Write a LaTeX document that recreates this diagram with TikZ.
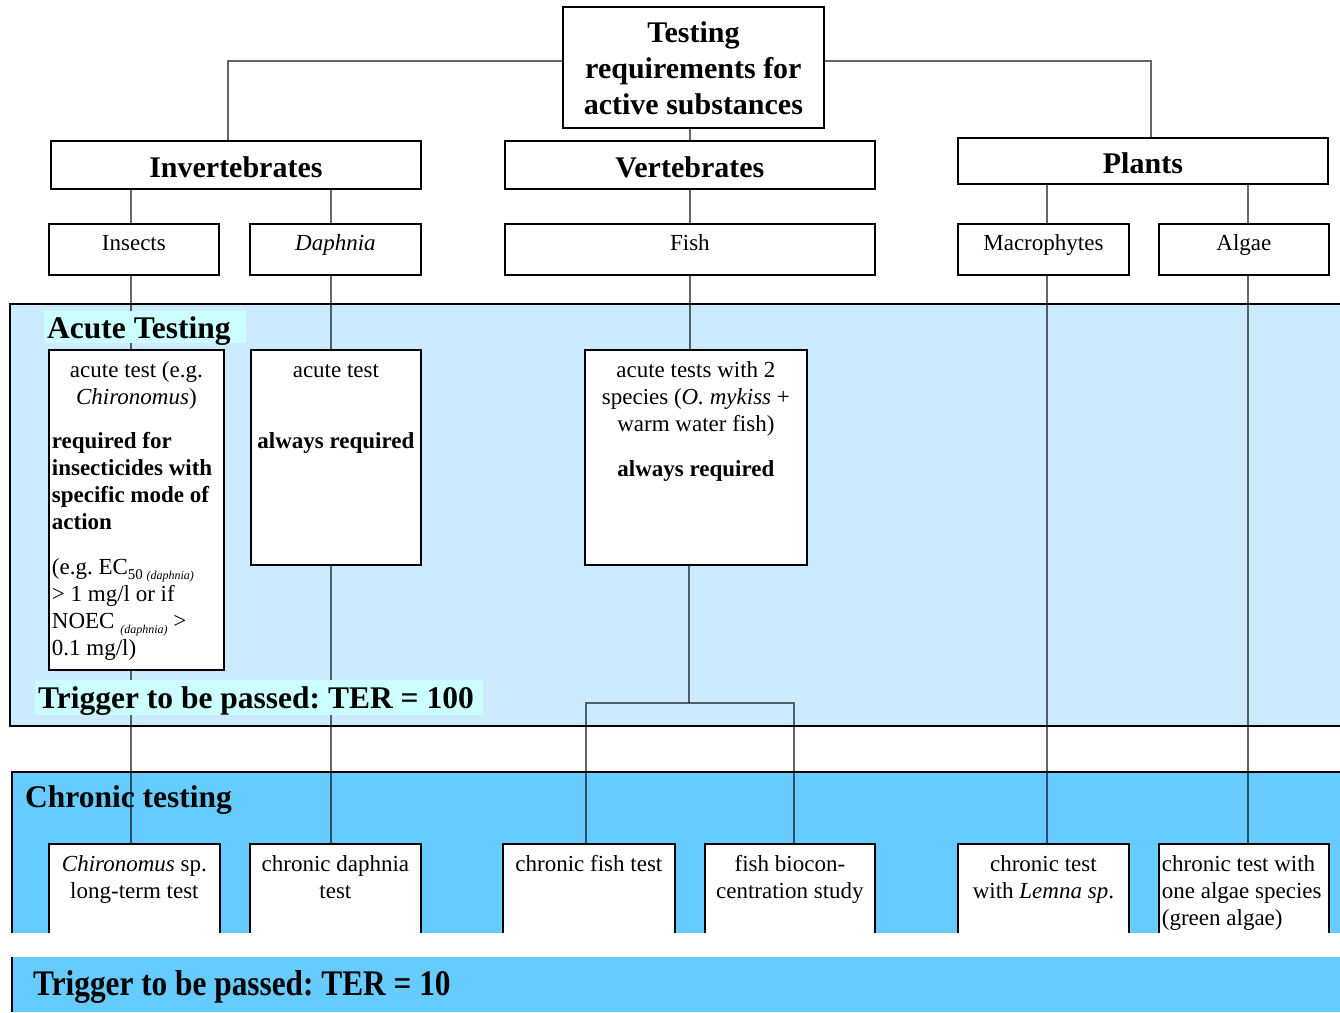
\documentclass[tikz,border=0pt]{standalone}
\usepackage{fontspec}
\setmainfont{Liberation Serif}
\frenchspacing
\usetikzlibrary{positioning}
\pgfdeclarelayer{bands}
\pgfdeclarelayer{lines}
\pgfsetlayers{bands,lines,main}

\definecolor{acutebg}{HTML}{CCEBFF}
\definecolor{labelbg}{HTML}{CCFFFF}
\definecolor{chronicbg}{HTML}{66CCFF}

% width, height, top skip, text
\newcommand{\boxtext}[4]{\begin{minipage}[t][#2pt][t]{\dimexpr #1pt-6pt\relax}\centering\vspace*{#3pt}\strut #4\par\end{minipage}}
\newcommand{\subtxt}[1]{\raisebox{-5pt}{\fontsize{15}{15}\selectfont #1}}

\tikzset{
  tbox/.style={draw, fill=white, line width=1.8pt, inner xsep=3pt, inner ysep=0pt,
    anchor=north west, font=\fontsize{23}{27}\selectfont},
  headbox/.style={tbox, font=\fontsize{30}{36}\selectfont\bfseries},
  conn/.style={line width=2pt, black, opacity=0.6},
  band/.style={draw, line width=1.8pt},
  lab/.style={anchor=north west, fill=labelbg, inner xsep=3pt, inner ysep=1pt,
    font=\fontsize{31.5}{36}\selectfont\bfseries}
}

\begin{document}
\begin{tikzpicture}[x=1pt,y=-1pt]
\useasboundingbox (0,0) rectangle (1340,1012);

% bands
\begin{pgfonlayer}{bands}
  \draw[band, fill=acutebg] (10,304) rectangle (1350,726);
  \draw[band, fill=chronicbg] (12,772) rectangle (1350,950);
  \node[anchor=base west, inner sep=0, font=\fontsize{31.5}{36}\selectfont\bfseries] (chronlab) at (25,807) {Chronic testing};
\end{pgfonlayer}

% top levels
\node[headbox] (top) at (562,6) {\boxtext{261}{121}{10}{Testing\\ requirements for\\ active substances}};
\node[headbox] (inv) at (50,140) {\boxtext{370}{48}{11}{Invertebrates}};
\node[headbox] (vert) at (504,140) {\boxtext{370}{48}{11}{Vertebrates}};
\node[headbox] (plants) at (957,137) {\boxtext{370}{46}{10}{Plants}};

\node[tbox] (insects) at (48,223) {\boxtext{170}{51}{8}{Insects}};
\node[tbox] (daphnia) at (249,223) {\boxtext{171}{51}{8}{\textit{Daphnia}}};
\node[tbox] (fish) at (504,223) {\boxtext{370}{51}{8}{Fish}};
\node[tbox] (macro) at (957,223) {\boxtext{171}{51}{8}{Macrophytes}};
\node[tbox] (algae) at (1158,223) {\boxtext{170}{51}{8}{Algae}};

% acute testing
\node[lab, minimum height=32pt, text height=26pt, text depth=4pt] (acutelab) at (44,311) {\makebox[196pt][l]{Acute Testing}};
\node[tbox] (aIns) at (48,349) {\boxtext{175}{320}{9}{acute test (e.g.\\ \textit{Chironomus})\par
  \vspace{17pt}\raggedright{\bfseries required for\\ insecticides with\\ specific mode of\\ action}\par
  \vspace{18pt}(e.g. EC\subtxt{50 \fontsize{12}{12}\selectfont\textit{(daphnia)}}\\ > 1 mg/l or if\\ NOEC \subtxt{\fontsize{12}{12}\selectfont\textit{(daphnia)}} >\\ 0.1 mg/l)}};
\node[tbox] (aDaph) at (250,349) {\boxtext{170}{215}{9}{acute test\par\vspace{44pt}\textbf{always required}}};
\node[tbox] (aFish) at (584,349) {\boxtext{222}{215}{9}{acute tests with 2\\ species (\textit{O. mykiss} +\\ warm water fish)\par\vspace{18pt}\textbf{always required}}};
\node[lab, minimum height=35pt, text height=27pt, text depth=6pt] (trig100) at (35,680) {\makebox[442pt][l]{Trigger to be passed: TER = 100}};
\coordinate (fsplit) at (689,703);

% chronic testing
\node[tbox] (cIns) at (48,843) {\boxtext{171}{110}{9}{\textit{Chironomus} sp.\\ long-term test}};
\node[tbox] (cDaph) at (249,843) {\boxtext{171}{110}{9}{chronic daphnia\\ test}};
\node[tbox] (cFish) at (502,843) {\boxtext{172}{110}{9}{chronic fish test}};
\node[tbox] (cBio) at (704,843) {\boxtext{170}{110}{9}{fish biocon-\\ centration study}};
\node[tbox] (cLemna) at (957,843) {\boxtext{171}{110}{9}{chronic test\\ with \textit{Lemna sp}.}};
\node[tbox] (cAlg) at (1158,843) {\boxtext{170}{110}{9}{\raggedright chronic test with\\ one algae species\\ (green algae)}};

% connectors
\begin{pgfonlayer}{lines}
  \draw[conn] ([xshift=-8pt]inv.north) |- ([yshift=6.5pt]top.west);
  \draw[conn] ([yshift=6.5pt]top.east) -| ([xshift=8pt]plants.north);
  \draw[conn] (top.south -| vert.north) -- (vert.north);
  \draw[conn] (vert.south) -- (fish.north);
  \draw[conn] ([xshift=-3pt]insects.north) -- ([xshift=-3pt]insects.north |- inv.south);
  \draw[conn] ([xshift=-4.5pt]daphnia.north) -- ([xshift=-4.5pt]daphnia.north |- inv.south);
  \draw[conn] ([xshift=3.5pt]macro.north) -- ([xshift=3.5pt]macro.north |- plants.south);
  \draw[conn] ([xshift=4pt]algae.north) -- ([xshift=4pt]algae.north |- plants.south);
  \draw[conn] ([xshift=-3pt]insects.south) -- ([xshift=-3pt]insects.south |- cIns.north);
  \draw[conn] ([xshift=-4.5pt]daphnia.south) -- ([xshift=-4.5pt]daphnia.south |- cDaph.north);
  \draw[conn] (fish.south) -- (fish.south |- aFish.north);
  \draw[conn] (aFish.south -| fsplit) -- (fsplit);
  \draw[conn] ([xshift=-3pt]cFish.north) |- (fsplit) -| ([xshift=4pt]cBio.north);
  \draw[conn] ([xshift=3.5pt]macro.south) -- ([xshift=3.5pt]macro.south |- cLemna.north);
  \draw[conn] ([xshift=4pt]algae.south) -- ([xshift=4pt]algae.south |- cAlg.north);
\end{pgfonlayer}

% page break strip and bottom band
\fill[white] (0,933) rectangle (1350,957);
\fill[chronicbg] (12,957) rectangle (1350,1012);
\draw[line width=1.8pt] (12,957) -- (12,1012);
\node[anchor=base west, inner sep=0, font=\fontsize{36}{40}\selectfont\bfseries] (trig10) at (33,995) {\scalebox{0.87}[1]{Trigger to be passed: TER = 10}};
\end{tikzpicture}
\end{document}
